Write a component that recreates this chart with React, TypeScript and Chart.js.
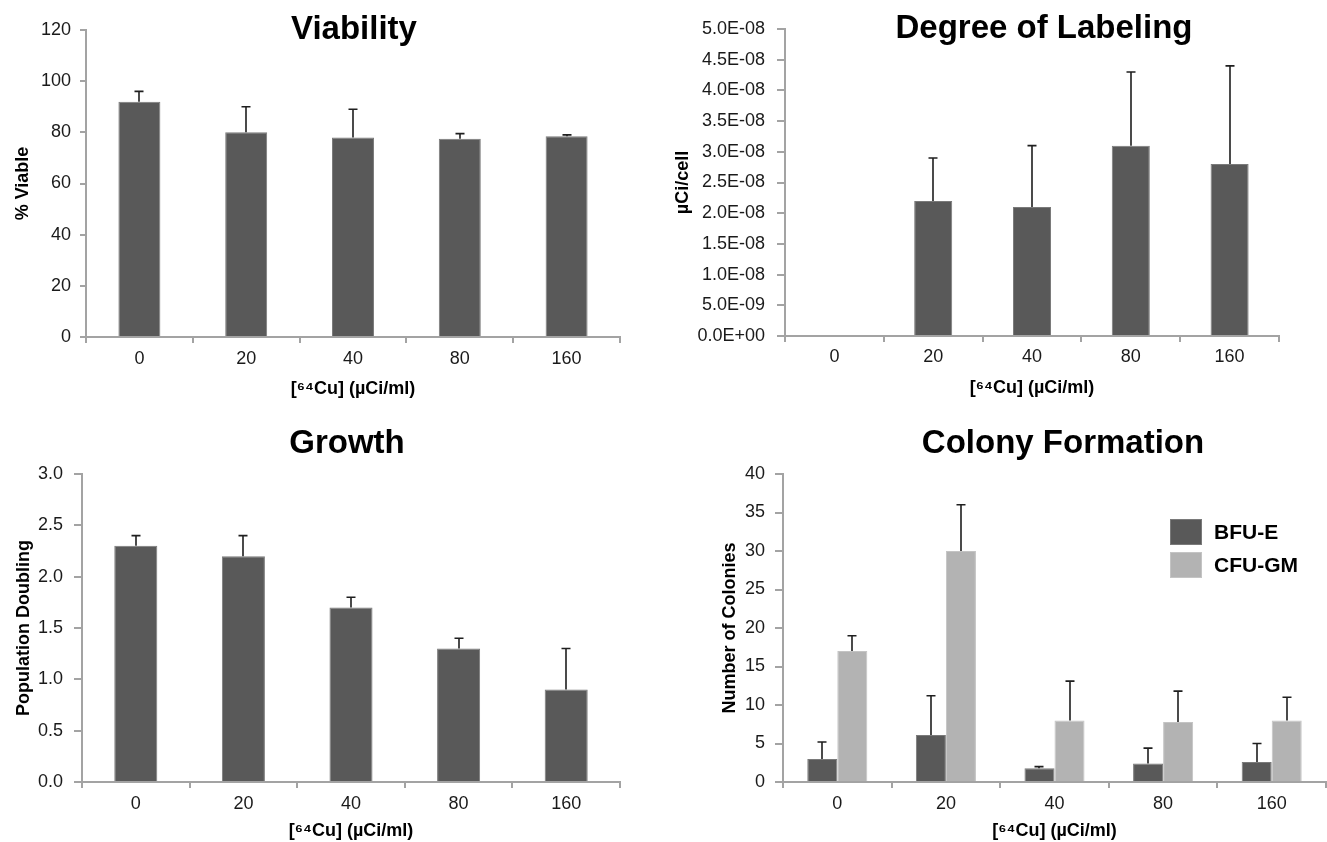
import React, { useEffect, useRef } from 'react';
import { Chart, registerables } from 'chart.js';

Chart.register(...registerables);

// ---------------- data ----------------
const doseLabels = ['0', '20', '40', '80', '160'];

const viabilityValues = [92, 80, 78, 77.5, 78.5];
const viabilitySD = [4, 10, 11, 2, 0.5];

const labelingValues = [0, 2.2e-8, 2.1e-8, 3.1e-8, 2.8e-8];
const labelingSD: (number | null)[] = [null, 0.7e-8, 1.0e-8, 1.2e-8, 1.6e-8];

const growthValues = [2.3, 2.2, 1.7, 1.3, 0.9];
const growthSD = [0.1, 0.2, 0.1, 0.1, 0.4];

const bfuValues = [3, 6.1, 1.8, 2.4, 2.6];
const bfuSD = [2.2, 5.1, 0.2, 2.0, 2.4];
const cfuValues = [17, 30, 8, 7.8, 8];
const cfuSD = [2, 6, 5.1, 4, 3];

const seriesNames = ['BFU-E', 'CFU-GM'];
const xAxisTitle = '[\u2076\u2074Cu] (\u00B5Ci/ml)';

// ---------------- styles ----------------
const FONT = '"Liberation Sans", Arial, Helvetica, sans-serif';
const DARK = '#595959';
const DARK_EDGE = '#7a7a7a';
const LIGHT = '#b3b3b3';
const LIGHT_EDGE = '#c4c4c4';
const AXIS = '#a3a3a3';
const TXT = '#1a1a1a';

function makeErrorPlugin(sds: (number | null)[][]) {
  return {
    id: 'errorBars',
    afterDatasetsDraw(chart: any) {
      const ctx = chart.ctx;
      const yScale = chart.scales.y;
      ctx.save();
      ctx.strokeStyle = '#1f1f1f';
      ctx.lineWidth = 1.6;
      sds.forEach((sd, di) => {
        const meta = chart.getDatasetMeta(di);
        const vals = chart.data.datasets[di].data as number[];
        meta.data.forEach((el: any, i: number) => {
          const e = sd[i];
          if (e == null || !vals[i]) return;
          const x = Math.round(el.x);
          const y0 = el.y;
          const y1 = yScale.getPixelForValue(vals[i] + e);
          ctx.beginPath();
          ctx.moveTo(x, y0);
          ctx.lineTo(x, y1);
          ctx.moveTo(x - 4.5, y1);
          ctx.lineTo(x + 4.5, y1);
          ctx.stroke();
        });
      });
      ctx.restore();
    },
  };
}

const boxLegendPlugin = {
  id: 'boxLegend',
  afterDraw(chart: any) {
    const ctx = chart.ctx;
    const x = 510;
    const y0 = 99;
    const boxW = 32;
    const boxH = 26;
    const gap = 33;
    ctx.save();
    chart.data.datasets.forEach((ds: any, i: number) => {
      const y = y0 + i * gap;
      ctx.fillStyle = ds.backgroundColor;
      ctx.fillRect(x, y, boxW, boxH);
      ctx.strokeStyle = ds.borderColor;
      ctx.lineWidth = 1;
      ctx.strokeRect(x + 0.5, y + 0.5, boxW - 1, boxH - 1);
      ctx.fillStyle = '#000';
      ctx.font = `bold 21px ${FONT}`;
      ctx.textBaseline = 'middle';
      ctx.textAlign = 'left';
      ctx.fillText(ds.label, x + 44, y + boxH / 2 + 1);
    });
    ctx.restore();
  },
};

function sci(v: number) {
  if (Math.abs(v) < 1e-20) return '0.0E+00';
  let e = Math.floor(Math.log10(Math.abs(v)) + 1e-9);
  let m = v / Math.pow(10, e);
  if (Math.round(m * 10) / 10 >= 10) {
    e += 1;
    m = v / Math.pow(10, e);
  }
  const sign = e < 0 ? '-' : '+';
  return `${m.toFixed(1)}E${sign}${String(Math.abs(e)).padStart(2, '0')}`;
}

type PanelOpts = {
  datasets: any[];
  sds: (number | null)[][];
  min: number;
  max: number;
  step: number;
  fmt: (v: number) => string;
  yTitle: string;
  left: number;
  top: number;
  right: number;
  xAxisH: number;
  yTl: number;
  yPad: number;
  xTickPad: number;
  xTitlePad: number;
  yTitlePad: number;
  extra?: any[];
};

function barConfig(p: PanelOpts): any {
  return {
    type: 'bar',
    data: { labels: doseLabels, datasets: p.datasets },
    options: {
      responsive: false,
      animation: false,
      devicePixelRatio: 1,
      layout: { padding: { left: 0, top: p.top, right: p.right, bottom: 0 } },
      plugins: {
        legend: { display: false },
        tooltip: { enabled: false },
        title: { display: false },
      },
      scales: {
        x: {
          offset: true,
          grid: {
            display: true,
            drawOnChartArea: false,
            drawTicks: true,
            tickLength: 6,
            color: AXIS,
            lineWidth: 2,
            offset: true,
          },
          border: { display: true, color: AXIS, width: 2 },
          ticks: {
            color: TXT,
            font: { family: FONT, size: 18 },
            padding: p.xTickPad,
            autoSkip: false,
            maxRotation: 0,
          },
          title: {
            display: true,
            text: xAxisTitle,
            color: '#000',
            font: { family: FONT, size: 18, weight: 'bold' },
            padding: { top: 0, bottom: p.xTitlePad },
          },
          afterFit: (s: any) => {
            s.height = p.xAxisH;
          },
        },
        y: {
          min: p.min,
          max: p.max,
          grid: {
            drawOnChartArea: false,
            drawTicks: true,
            tickLength: p.yTl,
            color: AXIS,
            lineWidth: 2,
          },
          border: { display: true, color: AXIS, width: 2 },
          ticks: {
            stepSize: p.step,
            color: TXT,
            font: { family: FONT, size: 18 },
            padding: p.yPad,
            callback: (v: any) => p.fmt(Number(v)),
          },
          title: {
            display: true,
            text: p.yTitle,
            color: '#000',
            font: { family: FONT, size: 18, weight: 'bold' },
            padding: { top: p.yTitlePad, bottom: 0 },
          },
          afterFit: (s: any) => {
            s.width = p.left;
          },
        },
      },
    },
    plugins: [makeErrorPlugin(p.sds), ...(p.extra || [])],
  };
}

function darkSet(label: string, data: number[], barPct: number, catPct = 1) {
  return {
    label,
    data,
    backgroundColor: DARK,
    borderColor: DARK_EDGE,
    borderWidth: (c: any) => (c.raw ? 1 : 0),
    barPercentage: barPct,
    categoryPercentage: catPct,
  };
}

function Panel(props: { left: number; top: number; width: number; height: number; build: () => any }) {
  const ref = useRef<HTMLCanvasElement>(null);
  useEffect(() => {
    const chart = new Chart(ref.current as HTMLCanvasElement, props.build());
    return () => chart.destroy();
  }, []);
  return (
    <canvas
      ref={ref}
      width={props.width}
      height={props.height}
      style={{
        position: 'absolute',
        left: props.left,
        top: props.top,
        width: props.width,
        height: props.height,
      }}
    />
  );
}

function Title(props: { text: string; cx: number; baseline: number; size: number }) {
  return (
    <div
      style={{
        position: 'absolute',
        left: props.cx - 300,
        top: props.baseline - Math.round(props.size * 0.846),
        width: 600,
        textAlign: 'center',
        fontFamily: FONT,
        fontWeight: 'bold',
        fontSize: props.size,
        lineHeight: `${props.size}px`,
        color: '#000',
        whiteSpace: 'nowrap',
      }}
    >
      {props.text}
    </div>
  );
}

export default function App() {
  return (
    <div
      style={{
        position: 'absolute',
        left: 0,
        top: 0,
        width: 1327,
        height: 842,
        background: '#fff',
        overflow: 'hidden',
      }}
    >
      <Panel
        left={0}
        top={0}
        width={660}
        height={420}
        build={() =>
          barConfig({
            datasets: [darkSet('Viability', viabilityValues, 0.393)],
            sds: [viabilitySD],
            min: 0,
            max: 120,
            step: 20,
            fmt: (v) => String(Math.round(v)),
            yTitle: '% Viable',
            left: 86,
            top: 30,
            right: 40,
            xAxisH: 83,
            yTl: 6,
            yPad: 9,
            xTickPad: 5,
            xTitlePad: 20,
            yTitlePad: 12,
          })
        }
      />
      <Panel
        left={660}
        top={0}
        width={667}
        height={420}
        build={() =>
          barConfig({
            datasets: [darkSet('Degree of Labeling', labelingValues, 0.385)],
            sds: [labelingSD],
            min: 0,
            max: 5e-8,
            step: 5e-9,
            fmt: sci,
            yTitle: '\u00B5Ci/cell',
            left: 125,
            top: 29,
            right: 48,
            xAxisH: 84,
            yTl: 8,
            yPad: 12,
            xTickPad: 4,
            xTitlePad: 21,
            yTitlePad: 12,
          })
        }
      />
      <Panel
        left={0}
        top={420}
        width={660}
        height={422}
        build={() =>
          barConfig({
            datasets: [darkSet('Growth', growthValues, 0.4)],
            sds: [growthSD],
            min: 0,
            max: 3,
            step: 0.5,
            fmt: (v) => v.toFixed(1),
            yTitle: 'Population Doubling',
            left: 82,
            top: 54,
            right: 40,
            xAxisH: 60,
            yTl: 8,
            yPad: 11,
            xTickPad: 5,
            xTitlePad: 0,
            yTitlePad: 13,
          })
        }
      />
      <Panel
        left={660}
        top={420}
        width={667}
        height={422}
        build={() =>
          barConfig({
            datasets: [
              darkSet(seriesNames[0], bfuValues, 1, 0.553),
              {
                label: seriesNames[1],
                data: cfuValues,
                backgroundColor: LIGHT,
                borderColor: LIGHT_EDGE,
                borderWidth: 1,
                barPercentage: 1,
                categoryPercentage: 0.553,
              },
            ],
            sds: [bfuSD, cfuSD],
            min: 0,
            max: 40,
            step: 5,
            fmt: (v) => String(Math.round(v)),
            yTitle: 'Number of Colonies',
            left: 123,
            top: 54,
            right: 1,
            xAxisH: 60,
            yTl: 8,
            yPad: 10,
            xTickPad: 5,
            xTitlePad: 0,
            yTitlePad: 59,
            extra: [boxLegendPlugin],
          })
        }
      />
      <Title text="Viability" cx={354} baseline={39} size={33} />
      <Title text="Degree of Labeling" cx={1044} baseline={38} size={33} />
      <Title text="Growth" cx={347} baseline={453} size={33} />
      <Title text="Colony Formation" cx={1063} baseline={453} size={33} />
    </div>
  );
}
